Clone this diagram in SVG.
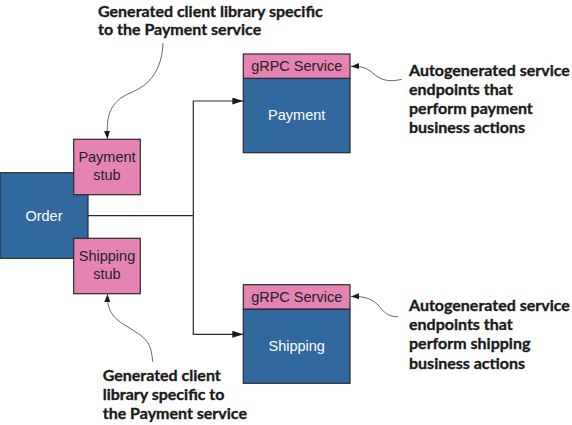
<svg xmlns="http://www.w3.org/2000/svg" width="572" height="425" viewBox="0 0 572 425">
<defs>
<style>
.blue{fill:#31689e;stroke:#2a2a2a;stroke-width:1.2}
.pink{fill:#e584b4;stroke:#2a2a2a;stroke-width:1.2}
.wt{font-family:"Liberation Sans",Arial,sans-serif;font-size:14.5px;fill:#ffffff;text-anchor:middle}
.dt{font-family:"Liberation Sans",Arial,sans-serif;font-size:14.5px;fill:#222222;text-anchor:middle}
.ann{font-family:Lato,"Open Sans",sans-serif;font-weight:bold;font-size:16px;fill:#1a1a1a;stroke:#1a1a1a;stroke-width:0.35}
.conn{fill:none;stroke:#2a2a2a;stroke-width:1.2}
.curve{fill:none;stroke:#555555;stroke-width:0.9}
</style>
<marker id="arr" markerWidth="11" markerHeight="7" refX="11" refY="3.5" orient="auto" markerUnits="userSpaceOnUse">
<path d="M0,0 L11,3.5 L0,7 Z" fill="#1a1a1a"/>
</marker>
<marker id="sarr" markerWidth="8" markerHeight="6" refX="8" refY="3" orient="auto" markerUnits="userSpaceOnUse">
<path d="M0,0 L8,3 L0,6 Z" fill="#1a1a1a"/>
</marker>
</defs>
<g id="connectors">
<path class="conn" d="M88,215.7 H193.3"/>
<path class="conn" d="M193.3,215.7 V101 H243.3" marker-end="url(#arr)"/>
<path class="conn" d="M193.3,215.7 V334.3 H243.3" marker-end="url(#arr)"/>
<path class="curve" d="M163,43 C162,70 150,85 130,93 C110,102 106,115 107.5,139" marker-end="url(#sarr)"/>
<path class="curve" d="M152.7,361.7 C151,340 145,338 128,327 C112,318 107,310 107.5,294" marker-end="url(#sarr)"/>
<path class="curve" d="M401.7,79.3 C390,82 382,81 374,74 C366,67 360,66 351,66.5" marker-end="url(#sarr)"/>
<path class="curve" d="M398,316.7 C388,317 384,312 378,305 C372,299 365,296 351,296.5" marker-end="url(#sarr)"/>
</g>
<g id="order">
<rect class="blue" x="0" y="172.7" width="88" height="85.6"/>
<text class="wt" x="44" y="220.5">Order</text>
</g>
<g id="payment-stub">
<rect class="pink" x="73.7" y="139.3" width="66.6" height="55.4"/>
<text class="dt" x="107" y="161.7">Payment</text>
<text class="dt" x="107" y="180">stub</text>
</g>
<g id="shipping-stub">
<rect class="pink" x="73.7" y="238.3" width="66.6" height="55.4"/>
<text class="dt" x="107" y="260.7">Shipping</text>
<text class="dt" x="107" y="279">stub</text>
</g>
<g id="payment-service">
<rect class="blue" x="243.3" y="78.3" width="106.7" height="74.4"/>
<rect class="pink" x="243.3" y="54" width="106.7" height="24.3"/>
<text class="dt" x="296.7" y="71">gRPC Service</text>
<text class="wt" x="296.7" y="119.5">Payment</text>
</g>
<g id="shipping-service">
<rect class="blue" x="243.3" y="309" width="106.7" height="74.3"/>
<rect class="pink" x="243.3" y="284.7" width="106.7" height="24.3"/>
<text class="dt" x="296.7" y="301.5">gRPC Service</text>
<text class="wt" x="296.7" y="350.5">Shipping</text>
</g>
<g id="annotations">
<text class="ann" x="98" y="16.5">Generated client library specific</text>
<text class="ann" x="98" y="35">to the Payment service</text>
<text class="ann" x="409" y="76">Autogenerated service</text>
<text class="ann" x="409" y="94.5">endpoints that</text>
<text class="ann" x="409" y="113.5">perform payment</text>
<text class="ann" x="409" y="132.5">business actions</text>
<text class="ann" x="409" y="310.5">Autogenerated service</text>
<text class="ann" x="409" y="330">endpoints that</text>
<text class="ann" x="409" y="349">perform shipping</text>
<text class="ann" x="409" y="368.5">business actions</text>
<text class="ann" x="102.7" y="380.7">Generated client</text>
<text class="ann" x="102.7" y="400">library specific to</text>
<text class="ann" x="102.7" y="419.3">the Payment service</text>
</g>
</svg>
